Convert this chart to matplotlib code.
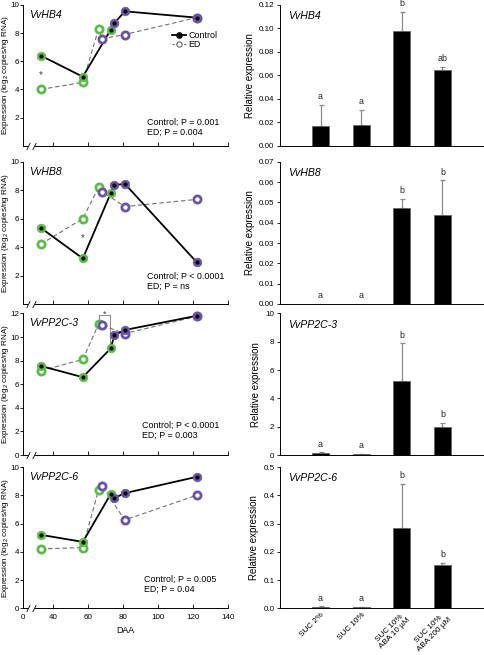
import matplotlib
matplotlib.use("Agg")
import matplotlib.pyplot as plt
import matplotlib.transforms as mtransforms
import numpy as np

plt.rcParams['font.family'] = ['Liberation Sans', 'DejaVu Sans']
plt.rcParams['mathtext.default'] = 'regular'
plt.rcParams['axes.linewidth'] = 0.7

# ---------------- data ----------------
daa_ctrl = [33, 57, 73, 75, 81, 122]
daa_ed = [33, 57, 66, 68, 81, 122]
stage_ctrl = ['g', 'g', 'g', 'p', 'p', 'p']
stage_ed = ['g', 'g', 'g', 'p', 'p', 'p']

genes = ['VvHB4', 'VvHB8', 'VvPP2C-3', 'VvPP2C-6']

hb4_ctrl = [6.4, 4.9, 8.25, 8.7, 9.55, 9.1]
hb4_ed = [4.0, 4.5, 8.3, 7.6, 7.9, 9.1]
hb8_ctrl = [5.35, 3.2, 7.8, 8.35, 8.45, 2.95]
hb8_ed = [4.2, 6.0, 8.2, 7.9, 6.85, 7.35]
pp3_ctrl = [7.55, 6.6, 9.05, 10.15, 10.6, 11.8]
pp3_ed = [7.15, 8.1, 11.1, 11.0, 10.3, 11.75]
pp6_ctrl = [5.2, 4.7, 8.1, 7.8, 8.15, 9.3]
pp6_ed = [4.2, 4.3, 8.4, 8.65, 6.25, 8.0]

pvals = [("Control; P = 0.001", "ED; P = 0.004"),
         ("Control; P < 0.0001", "ED; P = ns"),
         ("Control; P < 0.0001", "ED; P = 0.003"),
         ("Control; P = 0.005", "ED; P = 0.04")]

x_ticks = [40, 60, 80, 100, 120, 140]
x_ticklabels = ['40', '60', '80', '100', '120', '140']

treatments = ['SUC 2%', 'SUC 10%', 'SUC 10%\nABA 10 µM', 'SUC 10%\nABA 200 µM']
hb4_bar = [0.0172, 0.0180, 0.0975, 0.0645]
hb4_err = [0.0175, 0.0125, 0.0167, 0.0027]
hb4_let = ['a', 'a', 'b', 'ab']
hb8_bar = [0.0, 0.0, 0.0474, 0.0436]
hb8_err = [0.0, 0.0, 0.0043, 0.0172]
hb8_let = ['a', 'a', 'b', 'b']
pp3_bar = [0.15, 0.07, 5.2, 1.97]
pp3_err = [0.05, 0.03, 2.68, 0.30]
pp3_let = ['a', 'a', 'b', 'b']
pp6_bar = [0.0047, 0.0035, 0.285, 0.154]
pp6_err = [0.0025, 0.0015, 0.156, 0.007]
pp6_let = ['a', 'a', 'b', 'b']

# ---------------- styling ----------------
GREEN = '#5dbb4c'
PURPLE = '#6a54a3'
cmap = {'g': GREEN, 'p': PURPLE}

fig = plt.figure(figsize=(4.84, 6.55), dpi=100)

rows = [(0.7776, 0.2148), (0.5359, 0.2172), (0.3053, 0.2161), (0.0713, 0.2157)]
ctrl_all = [hb4_ctrl, hb8_ctrl, pp3_ctrl, pp6_ctrl]
ed_all = [hb4_ed, hb8_ed, pp3_ed, pp6_ed]
ylims_left = [(0, 10), (0, 10), (0, 12), (0, 10)]
yticks_left = [[2, 4, 6, 8, 10], [2, 4, 6, 8, 10], [0, 2, 4, 6, 8, 10, 12], [0, 2, 4, 6, 8, 10]]
ptext_pos = [(0.605, 0.06), (0.605, 0.09), (0.58, 0.105), (0.59, 0.1)]

bars_all = [hb4_bar, hb8_bar, pp3_bar, pp6_bar]
errs_all = [hb4_err, hb8_err, pp3_err, pp6_err]
lets_all = [hb4_let, hb8_let, pp3_let, pp6_let]
ylims_right = [(0, 0.12), (0, 0.07), (0, 10), (0, 0.5)]
yticks_right = [np.arange(0, 0.121, 0.02), np.arange(0, 0.0701, 0.01), [0, 2, 4, 6, 8, 10],
                np.arange(0, 0.501, 0.1)]
yfmt_right = ['{:.2f}', '{:.2f}', '{:.0f}', '{:.1f}']

XL = 22.8
TICK_FS = 5.8
TXT_FS = 6.4

for i in range(4):
    b, h = rows[i]
    ax = fig.add_axes([0.0475, b, 0.4236, h])
    ax.spines['top'].set_visible(False)
    ax.spines['right'].set_visible(False)
    ax.spines['bottom'].set_visible(False)
    ax.set_xlim(XL, 140)
    ax.set_ylim(*ylims_left[i])
    ax.set_yticks(yticks_left[i])
    ax.set_yticklabels([str(v) for v in yticks_left[i]])
    if i == 3:
        ax.set_xticks([XL] + x_ticks)
        ax.set_xticklabels(['0'] + x_ticklabels)
        ax.set_xlabel('DAA', fontsize=TXT_FS, labelpad=4)
    else:
        ax.set_xticks(x_ticks)
        ax.set_xticklabels([])
    ax.tick_params(axis='x', direction='in', length=3, width=0.6, labelsize=TICK_FS, pad=4)
    ax.tick_params(axis='y', direction='out', length=2.0, width=0.6, labelsize=TICK_FS, pad=0.8)
    ax.set_ylabel('Expression (log$_2$ copies/ng RNA)', fontsize=5.9)
    ax.yaxis.set_label_coords(-0.0595, 0.5)

    # broken x axis
    trans = mtransforms.blended_transform_factory(ax.transData, ax.transAxes)
    ax.plot([XL, 25.2], [0, 0], color='k', lw=0.7, transform=trans, clip_on=False)
    ax.plot([29.6, 140], [0, 0], color='k', lw=0.7, transform=trans, clip_on=False)
    ax.plot([25.6, 29.2], [0, 0], linestyle='none', marker=[(-1, -2), (1, 2)],
            markersize=5, mew=0.6, color='k', transform=trans, clip_on=False)

    c = ctrl_all[i]
    e = ed_all[i]
    ax.plot(daa_ed, e, color='#707070', lw=0.8, ls=(0, (4, 2.5)), zorder=2)
    ax.plot(daa_ctrl, c, color='k', lw=1.3, zorder=3)
    for xx, yy, st in zip(daa_ed, e, stage_ed):
        ax.plot(xx, yy, marker='o', ms=5.2, mfc='white', mec=cmap[st], mew=2.0,
                zorder=4, clip_on=False)
    for xx, yy, st in zip(daa_ctrl, c, stage_ctrl):
        ax.plot(xx, yy, marker='o', ms=6.2, mfc=cmap[st], mec=cmap[st], mew=0.5,
                zorder=5, clip_on=False)
        ax.plot(xx, yy, marker='o', ms=2.0, mfc='k', mec='k', zorder=6, clip_on=False)

    ax.text(0.03, 0.93, genes[i], transform=ax.transAxes, fontsize=7.6, style='italic',
            ha='left', va='center')
    px, py = ptext_pos[i]
    ax.text(px, py, pvals[i][0] + '\n' + pvals[i][1], transform=ax.transAxes,
            fontsize=TXT_FS, ha='left', va='bottom', linespacing=1.25)

    if i == 0:
        ax.text(33, 5.0, '*', fontsize=7, ha='center', va='center', color='#444')
        # legend
        lx0, lx1 = 0.725, 0.795
        ax.plot([lx0, lx1], [0.785, 0.785], color='k', lw=1.3, transform=ax.transAxes)
        ax.plot([(lx0 + lx1) / 2], [0.785], marker='o', ms=3.8, color='k',
                transform=ax.transAxes)
        ax.plot([lx0, lx1], [0.72, 0.72], color='#707070', lw=0.8, ls=(0, (2, 1.5)),
                transform=ax.transAxes)
        ax.plot([(lx0 + lx1) / 2], [0.72], marker='o', ms=3.8, mfc='white', mec='#555',
                mew=0.7, transform=ax.transAxes)
        ax.text(0.805, 0.785, 'Control', transform=ax.transAxes, fontsize=TXT_FS,
                ha='left', va='center')
        ax.text(0.805, 0.72, 'ED', transform=ax.transAxes, fontsize=TXT_FS,
                ha='left', va='center')
    if i == 1:
        ax.text(57, 4.6, '*', fontsize=7, ha='center', va='center', color='#444')
    if i == 2:
        ax.plot([66, 66, 72.6, 72.6], [11.45, 11.9, 11.9, 9.1], color='#8a8a8a',
                lw=0.7, zorder=1, clip_on=False)
        ax.text(69.3, 11.95, '*', fontsize=6.5, ha='center', va='center', color='#444',
                clip_on=False)

    # ---------- right bar panel ----------
    axr = fig.add_axes([0.5785, b, 0.4195, h])
    axr.spines['top'].set_visible(False)
    axr.spines['right'].set_visible(False)
    pos = np.arange(1, 5)
    vals = bars_all[i]
    errs = errs_all[i]
    axr.bar(pos, vals, width=0.41, color='black', edgecolor='#666666', linewidth=0.6,
            zorder=2)
    for p_, v_, e_ in zip(pos, vals, errs):
        if v_ > 0:
            axr.errorbar(p_, v_, yerr=[[0], [e_]], fmt='none', ecolor='#8c8c8c',
                         elinewidth=0.9, capsize=1.8, capthick=0.9, zorder=1)
    for p_, v_, e_, l_ in zip(pos, vals, errs, lets_all[i]):
        axr.annotate(l_, (p_, v_ + e_), xytext=(0, 2.6), textcoords='offset points',
                     ha='center', va='bottom', fontsize=TXT_FS, color='#222',
                     annotation_clip=False)
    axr.set_xlim(0, 5.0)
    axr.set_ylim(*ylims_right[i])
    yt = yticks_right[i]
    axr.set_yticks(yt)
    axr.set_yticklabels([yfmt_right[i].format(v) for v in yt])
    axr.tick_params(axis='y', direction='out', length=2.5, width=0.6, labelsize=TICK_FS,
                    pad=1.5)
    axr.tick_params(axis='x', length=0, labelsize=5.9, pad=2.2)
    axr.set_xticks(pos)
    if i == 3:
        axr.set_xticklabels(treatments, rotation=45, ha='right', va='top',
                            rotation_mode='anchor', fontsize=5.9, linespacing=1.05)
        for lab in axr.get_xticklabels():
            lab.set_multialignment('center')
    else:
        axr.set_xticklabels([])
    axr.set_ylabel('Relative expression', fontsize=7, labelpad=3)
    axr.text(0.038, 0.92, genes[i], transform=axr.transAxes, fontsize=7.6, style='italic',
             ha='left', va='center')

fig.savefig('out.png', dpi=100)
